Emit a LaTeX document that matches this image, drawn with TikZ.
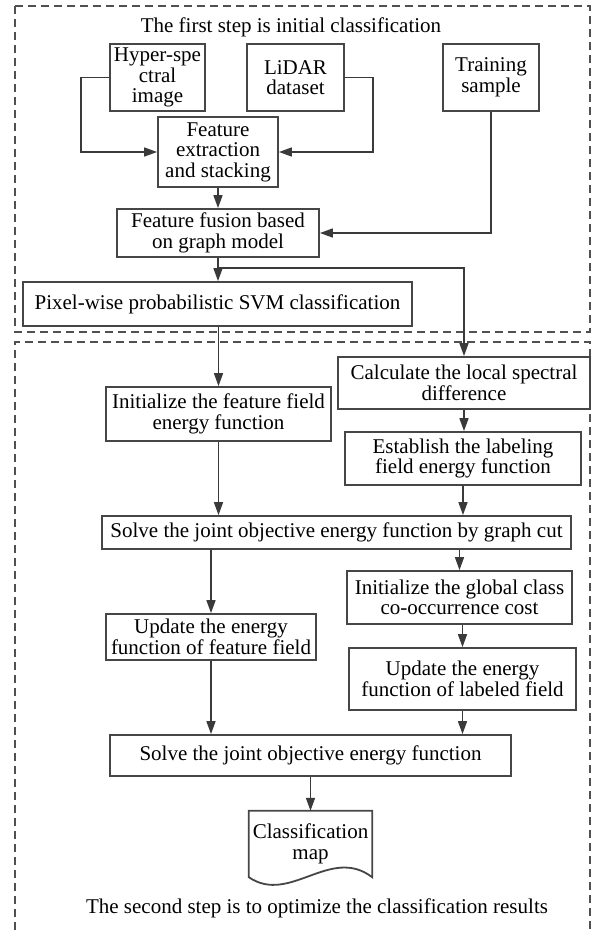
\documentclass[tikz,border=0pt]{standalone}
\usepackage{fontspec}
\setmainfont{Liberation Serif}
\usetikzlibrary{arrows.meta,calc}
\definecolor{boxc}{RGB}{70,70,70}
\definecolor{linec}{RGB}{58,58,58}
\definecolor{framec}{RGB}{80,80,80}
\begin{document}
\begin{tikzpicture}[x=1pt,y=1pt,
  txt/.style={font=\fontsize{21pt}{20.5pt}\selectfont},
  bx/.style 2 args={draw=boxc, line width=1.8pt, align=center, inner sep=1pt, txt,
    minimum width=#1, minimum height=#2},
  lbl/.style={txt, inner sep=0pt, align=center},
  arr/.style={draw=linec, line width=1.6pt, -{Triangle[length=13pt,width=9pt]}},
  frame/.style={draw=framec, line width=1.3pt, dash pattern=on 8pt off 5pt}]
\useasboundingbox (0,0) rectangle (594,-930);

% frames
\draw[frame] (15,-6) rectangle (590,-332);
\draw[frame] (15,-930) -- (15,-342) -- (590,-342) -- (590,-930);

% titles
\node[lbl] (t1) at (291,-27) {The first step is initial classification};
\node[lbl] (t2) at (317,-908) {The second step is to optimize the classification results};

% boxes
\node[bx={95pt}{67pt}] (hyper) at (157.5,-77.5) {Hyper-spe\\ctral\\image};
\node[bx={97pt}{67pt}] (lidar) at (295.5,-77.5) {LiDAR\\dataset};
\node[bx={96pt}{67pt}] (train) at (491,-77.5) {Training\\sample};
\node[bx={120pt}{70pt}] (feat) at (218,-152) {Feature\\extraction\\and stacking};
\node[bx={202pt}{48pt}] (fusion) at (218,-233) {Feature fusion based\\on graph model};
\node[bx={389pt}{44pt}] (pixel) at (217.5,-304) {Pixel-wise probabilistic SVM classification};
\node[bx={225pt}{54pt}] (initF) at (218.5,-414) {Initialize the feature field\\energy function};
\node[bx={252pt}{52pt}] (calc) at (464,-383) {Calculate the local spectral\\difference};
\node[bx={236pt}{53pt}] (estab) at (463,-458.5) {Establish the labeling\\field energy function};
\node[bx={469pt}{33pt}] (solveA) at (336.5,-532.5) {Solve the joint objective energy function by graph cut};
\node[bx={225pt}{53pt}] (initG) at (459.5,-597.5) {Initialize the global class\\co-occurrence cost};
\node[bx={210pt}{46pt}] (updF) at (211,-637) {Update the energy\\function of feature field};
\node[bx={227pt}{62pt}] (updL) at (462.5,-679) {Update the energy\\function of labeled field};
\node[bx={401pt}{41pt}] (solveB) at (310.5,-755.5) {Solve the joint objective energy function};
\node[lbl, minimum width=123pt, minimum height=66pt] (map) at (310.5,-844) {Classification\\map};
\draw[draw=boxc, line width=1.8pt] (map.south west) .. controls +(41,-28) and +(-42,32) .. (map.south east)
  -- (map.north east) -- (map.north west) -- cycle;

% connectors
\draw[arr] (hyper.west) -- ++(-28,0) |- (feat.west);
\draw[arr] (lidar.east) -- ++(28,0) |- (feat.east);
\draw[arr] (feat.south) -- (fusion.north);
\draw[arr] (train.south) |- (fusion.east);
\draw[arr] (fusion.south) -- (fusion.south |- pixel.north);
\coordinate (br) at ($(fusion.south)+(0,-10)$);
\draw[arr] (br) -| (calc.north);
\draw[arr] (pixel.south -| initF.north) -- (initF.north);
\draw[arr] (initF.south) -- (initF.south |- solveA.north);
\draw[arr] (calc.south) -- (calc.south |- estab.north);
\draw[arr] (estab.south) -- (estab.south |- solveA.north);
\draw[arr] (updF.north |- solveA.south) -- (updF.north);
\draw[arr] (initG.north |- solveA.south) -- (initG.north);
\draw[arr] (updL.north |- initG.south) -- (updL.north);
\draw[arr] (updF.south) -- (updF.south |- solveB.north);
\draw[arr] (updL.south) -- (updL.south |- solveB.north);
\draw[arr] (solveB.south) -- (map.north);
\end{tikzpicture}
\end{document}
